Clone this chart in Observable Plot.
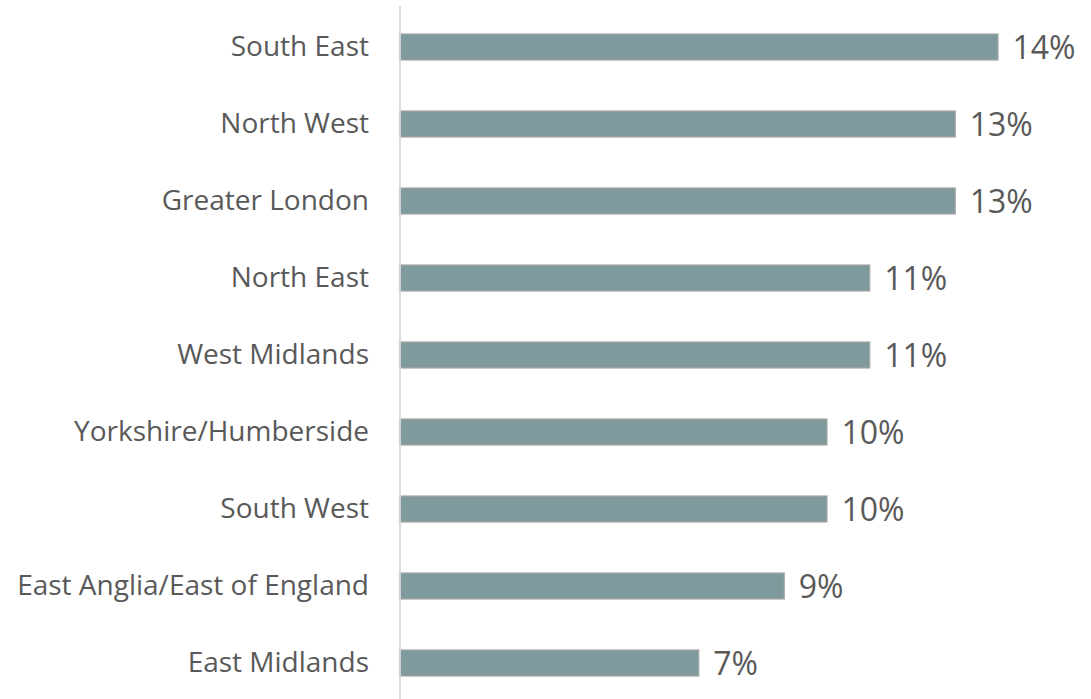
<!DOCTYPE html>
<html>
<head>
<meta charset="utf-8">
<script src="https://cdn.jsdelivr.net/npm/d3@7"></script>
<script src="https://cdn.jsdelivr.net/npm/@observablehq/plot@0.6"></script>
<style>
  html, body { margin: 0; padding: 0; background: #ffffff; }
  #chart svg { display: block; }
</style>
</head>
<body>
<div id="chart"></div>
<script>
const regions = ["South East", "North West", "Greater London", "North East", "West Midlands", "Yorkshire/Humberside", "South West", "East Anglia/East of England", "East Midlands"];
const shares = [14, 13, 13, 11, 11, 10, 10, 9, 7];
const valueLabels = ["14%", "13%", "13%", "11%", "11%", "10%", "10%", "9%", "7%"];

const data = regions.map((r, i) => ({region: r, value: shares[i], label: valueLabels[i]}));

const chart = Plot.plot({
  width: 1091,
  height: 699,
  marginTop: 6,
  marginBottom: 0,
  marginLeft: 399.5,
  marginRight: 7.5,
  style: {fontFamily: "'Open Sans', sans-serif", background: "#ffffff"},
  x: {domain: [0, 16], axis: null},
  y: {domain: regions, paddingInner: 0.665, paddingOuter: 0.3035, align: 0.553, label: null},
  marks: [
    Plot.axisY({tickSize: 0, tickPadding: 31, fontSize: 28, fill: "#595959", label: null}),
    Plot.barX(data, {x: "value", y: "region", fill: "#7f9a9c", stroke: "#a6a6a6", strokeWidth: 1.2}),
    Plot.ruleX([0], {stroke: "#d9d9d9", strokeWidth: 1.8}),
    Plot.text(data, {x: "value", y: "region", text: "label", textAnchor: "start", dx: 14, dy: 1, fontSize: 32, fill: "#595959"})
  ]
});
document.getElementById("chart").appendChild(chart);
</script>
</body>
</html>
